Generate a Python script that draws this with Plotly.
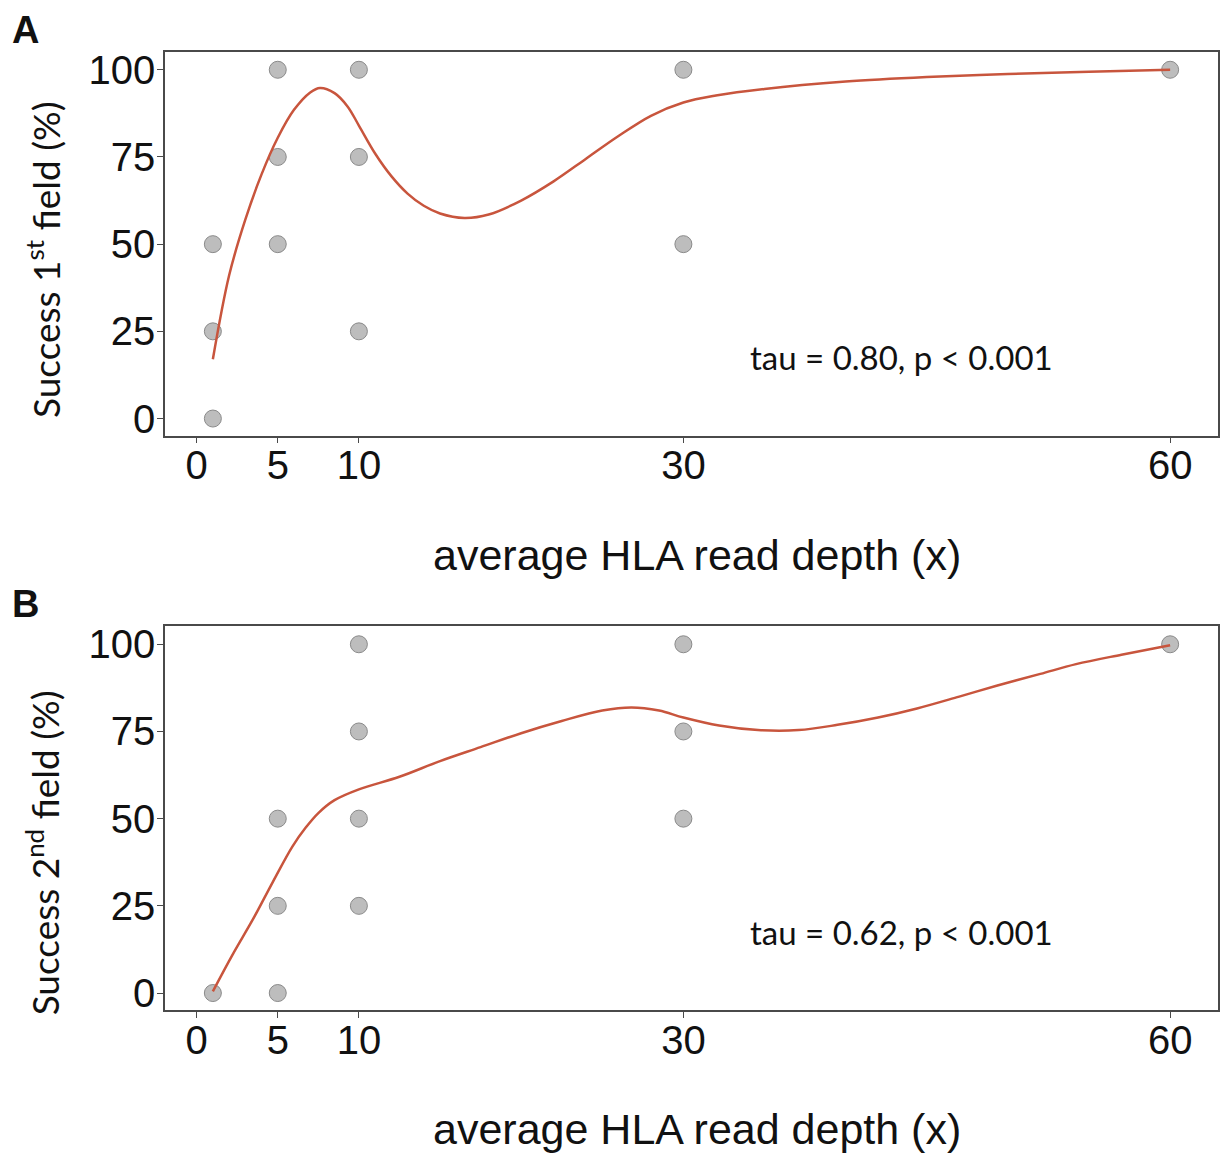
import plotly.graph_objects as go

# ---- data ----
depth_a = [1, 1, 1, 5, 5, 5, 10, 10, 10, 30, 30, 60]
success_a = [50, 25, 0, 100, 75, 50, 100, 75, 25, 100, 50, 100]
depth_b = [1, 5, 5, 5, 10, 10, 10, 10, 30, 30, 30, 60]
success_b = [0, 50, 25, 0, 100, 75, 50, 25, 100, 75, 50, 100]

smooth_a_x = [1, 2, 3, 4, 5, 6, 7, 7.6, 8.5, 9.3, 10, 11, 12, 13, 14, 15, 16.5, 18, 20, 22, 24, 26, 28, 30, 32, 35, 40, 45, 50, 55, 60]
smooth_a_y = [17, 41, 57, 70, 80.5, 88.5, 93.5, 94.8, 93.3, 89.5, 84, 76, 69.5, 64.5, 61, 58.8, 57.5, 58.5, 62.5, 68, 74.5, 81, 86.8, 90.6, 92.6, 94.5, 96.6, 97.9, 98.8, 99.4, 100]
smooth_b_x = [1, 2.2, 3.5, 4.7, 5.9, 6.7, 7.5, 8.5, 10, 12.5, 15, 17.5, 20, 22.5, 25, 26.8, 28.5, 30, 32.2, 34.6, 37.1, 39.5, 42, 44.4, 47, 49.3, 52, 54.2, 57, 60]
smooth_b_y = [0.5, 10.9, 21.4, 31.9, 42, 47.3, 51.6, 55.3, 58.4, 62, 66.5, 70.5, 74.5, 78, 81, 81.9, 81, 79, 76.7, 75.4, 75.4, 76.9, 79, 81.6, 85, 88.1, 91.5, 94.3, 97, 99.7]

x_ticks = [0, 5, 10, 30, 60]
y_ticks = [0, 25, 50, 75, 100]
panel_labels = ["A", "B"]
y_titles = ["Success 1<sup>st</sup> field (%)", "Success 2<sup>nd</sup> field (%)"]
x_title = "average HLA read depth (x)"
stats = ["tau = 0.80, p < 0.001", "tau = 0.62, p < 0.001"]

W, H = 1221, 1160
LINE_COL = "#c8553d"
PT_FILL = "#bdbdbd"
PT_EDGE = "#8a8a8a"
AX_COL = "#4a4a4a"
FONT = "Liberation Sans, Arial, sans-serif"
FONT2 = "Lato, Open Sans, sans-serif"

fig = go.Figure()

panels = [
    (depth_a, success_a, smooth_a_x, smooth_a_y, "x", "y"),
    (depth_b, success_b, smooth_b_x, smooth_b_y, "x2", "y2"),
]
for dx, dy, sx, sy, xa, ya in panels:
    fig.add_trace(go.Scatter(x=dx, y=dy, mode="markers", xaxis=xa, yaxis=ya,
                             marker=dict(size=17, color=PT_FILL, line=dict(color=PT_EDGE, width=1)),
                             showlegend=False, hoverinfo="skip"))
    fig.add_trace(go.Scatter(x=sx, y=sy, mode="lines", xaxis=xa, yaxis=ya,
                             line=dict(color=LINE_COL, width=2.5, shape="spline", smoothing=1.0),
                             showlegend=False, hoverinfo="skip"))

# plot area pixel boxes (left, top, right, bottom)
boxes = [(165, 48, 1218, 435), (165, 627, 1218, 1014)]
y_title_centers = [258, 856]

def px(xp):
    return xp / W

def py(yp):
    return 1 - yp / H

axis_common = dict(showgrid=False, zeroline=False, showline=True, mirror=True,
                   linecolor=AX_COL, linewidth=1.5, ticks="outside", ticklen=6,
                   tickcolor=AX_COL, tickwidth=1.2,
                   tickfont=dict(family=FONT, size=40, color="#111111"))

layout_axes = {}
for i, (l, t, r, b) in enumerate(boxes):
    sfx = "" if i == 0 else "2"
    layout_axes["xaxis" + sfx] = dict(axis_common, domain=[px(l), px(r)], range=[-1.95, 62.95],
                                      tickvals=x_ticks, ticktext=[str(v) for v in x_ticks],
                                      anchor="y" + sfx, ticklabelstandoff=-12)
    layout_axes["yaxis" + sfx] = dict(axis_common, domain=[py(b), py(t)], range=[-4.9, 105.2],
                                      tickvals=y_ticks, ticktext=[str(v) for v in y_ticks],
                                      anchor="x" + sfx, ticklabelstandoff=-6)

annotations = []
for i, (l, t, r, b) in enumerate(boxes):
    annotations.append(dict(text="<b>" + panel_labels[i] + "</b>", x=px(10), y=py(t - 22),
                            xref="paper", yref="paper", xanchor="left", yanchor="middle",
                            showarrow=False, font=dict(family=FONT, size=38, color="#111111")))
    annotations.append(dict(text=y_titles[i], x=px(43), y=py(y_title_centers[i]),
                            xref="paper", yref="paper", xanchor="center", yanchor="middle",
                            textangle=-90, showarrow=False,
                            font=dict(family=FONT2, size=37, color="#111111")))
    annotations.append(dict(text=x_title, x=px(697), y=py(b + 120),
                            xref="paper", yref="paper", xanchor="center", yanchor="middle",
                            showarrow=False, font=dict(family=FONT, size=43, color="#111111")))
    annotations.append(dict(text=stats[i], x=px(901), y=py(t + 308),
                            xref="paper", yref="paper", xanchor="center", yanchor="middle",
                            showarrow=False, font=dict(family=FONT2, size=33, color="#111111")))

fig.update_layout(width=W, height=H, margin=dict(l=0, r=0, t=0, b=0),
                  paper_bgcolor="white", plot_bgcolor="white",
                  annotations=annotations, **layout_axes)

fig.write_html("out.html", config={"displayModeBar": False},
               post_script="document.body.style.margin='0';")
